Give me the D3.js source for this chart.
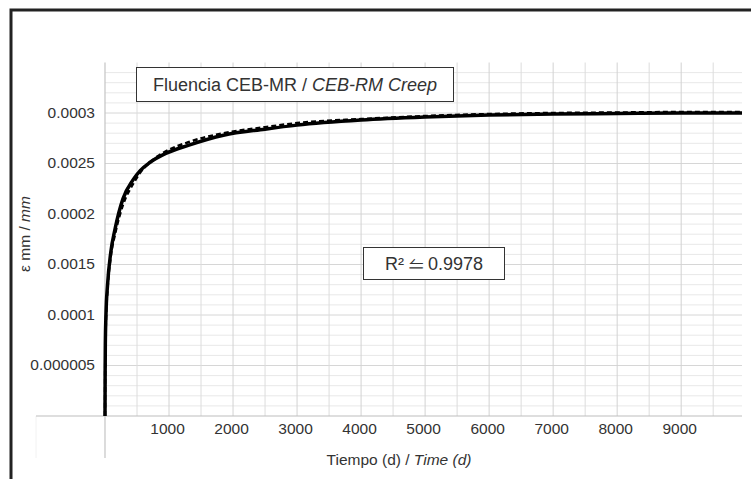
<!DOCTYPE html>
<html>
<head>
<meta charset="utf-8">
<script src="https://cdn.jsdelivr.net/npm/d3@7/dist/d3.min.js"></script>
<style>
  html, body { margin: 0; padding: 0; background: #fff; }
  svg { display: block; }
  text { font-family: "Liberation Sans", Arial, sans-serif; fill: #333; }
</style>
</head>
<body>
<svg id="chart" width="751" height="479"></svg>
<script>
// ---- data ----
const times = [0, 2, 5, 15, 40, 90, 160, 280, 440, 550, 700, 950, 1300, 1850, 2500, 3000, 4000, 5000, 6000, 7000, 8000, 9000, 9950];
const measured = [0, 0.00004, 0.00007, 0.0001, 0.00013, 0.000162, 0.000186, 0.000215, 0.000234, 0.000243, 0.000251, 0.00026, 0.000268, 0.000278, 0.000284, 0.000288, 0.000293, 0.000296, 0.000298, 0.000299, 0.0002995, 0.0003, 0.0003];
const model = [0, 0.000035, 0.000063, 0.000095, 0.000126, 0.000158, 0.000181, 0.000209, 0.00023, 0.000241, 0.000251, 0.000262, 0.000271, 0.00028, 0.000286, 0.00029, 0.000294, 0.000297, 0.000299, 0.0003, 0.0003005, 0.000301, 0.000301];
const yTickValues = [0.00005, 0.0001, 0.00015, 0.0002, 0.00025, 0.0003];
const yTickLabels = ["0.000005", "0.0001", "0.0015", "0.0002", "0.0025", "0.0003"];
const xTickValues = [1000, 2000, 3000, 4000, 5000, 6000, 7000, 8000, 9000];
const titleMain = "Fluencia CEB-MR / ";
const titleItalic = "CEB-RM Creep";
const r2Label = "R² ⥪ 0.9978";
const xTitleMain = "Tiempo (d) / ";
const xTitleItalic = "Time (d)";
const yTitleMain = "ε mm / ";
const yTitleItalic = "mm";

// ---- layout ----
const svg = d3.select("#chart");
const x = d3.scaleLinear().domain([0, 9950]).range([105, 742]);
const y = d3.scaleLinear().domain([0, 0.00035]).range([416, 62.5]);

// frame
svg.append("path")
  .attr("d", "M11,479 L11,10 L751,10")
  .attr("fill", "none").attr("stroke", "#222").attr("stroke-width", 3);

// grid
const g = svg.append("g");
const minorY = d3.range(1, 35).map(i => i * 0.00001);
g.selectAll("line.hminor").data(minorY.filter(v => Math.abs(Math.round(v / 0.00005) * 0.00005 - v) > 1e-9))
  .enter().append("line")
  .attr("x1", x(0)).attr("x2", x(9950))
  .attr("y1", d => y(d)).attr("y2", d => y(d))
  .attr("stroke", "#e8e8e8").attr("stroke-width", 1);
g.selectAll("line.hmajor").data(yTickValues)
  .enter().append("line")
  .attr("x1", x(0)).attr("x2", x(9950))
  .attr("y1", d => y(d)).attr("y2", d => y(d))
  .attr("stroke", "#d6d6d6").attr("stroke-width", 1);
const vLines = d3.range(500, 9951, 500);
g.selectAll("line.v").data(vLines)
  .enter().append("line")
  .attr("x1", d => x(d)).attr("x2", d => x(d))
  .attr("y1", y(0)).attr("y2", y(0.00035))
  .attr("stroke", d => d % 1000 === 0 ? "#d2d2d2" : "#dcdcdc").attr("stroke-width", 1);

// faint outer line left of axes
svg.append("line").attr("x1", 36).attr("x2", 36).attr("y1", y(0)).attr("y2", 458)
  .attr("stroke", "#f2f2f2");

// axes lines
svg.append("line").attr("x1", 36).attr("x2", x(9950)).attr("y1", y(0)).attr("y2", y(0))
  .attr("stroke", "#bdbdbd").attr("stroke-width", 1.2);
svg.append("line").attr("x1", x(0)).attr("x2", x(0)).attr("y1", y(0.00035)).attr("y2", 458)
  .attr("stroke", "#c4c4c4").attr("stroke-width", 1.2);

// y tick labels
const yAxis = d3.axisLeft(y).tickValues(yTickValues)
  .tickFormat((d, i) => yTickLabels[i]).tickSize(0).tickPadding(0);
const ya = svg.append("g").attr("transform", "translate(95,0)").call(yAxis);
ya.select(".domain").remove();
ya.selectAll("text").attr("font-size", 15.5).attr("fill", "#333")
  .attr("font-family", "Liberation Sans, Arial, sans-serif").attr("dy", "0.28em");

// x tick labels
const xAxis = d3.axisBottom(x).tickValues(xTickValues).tickFormat(d3.format("d")).tickSize(0).tickPadding(0);
const xa = svg.append("g").attr("transform", "translate(-2,422)").call(xAxis);
xa.select(".domain").remove();
xa.selectAll("text").attr("font-size", 15.5).attr("fill", "#333")
  .attr("font-family", "Liberation Sans, Arial, sans-serif").attr("dy", "0.78em");

// lines
const line = d3.line().x((d, i) => x(times[i])).y(d => y(d)).curve(d3.curveMonotoneX);
svg.append("path").datum(measured).attr("d", line)
  .attr("fill", "none").attr("stroke", "#000").attr("stroke-width", 3.5).attr("stroke-linejoin", "round");
svg.append("path").datum(model).attr("d", line)
  .attr("fill", "none").attr("stroke", "#000").attr("stroke-width", 2.5).attr("stroke-dasharray", "5,3");

// title box
const tb = svg.append("g");
tb.append("rect").attr("x", 136.5).attr("y", 67.5).attr("width", 317).attr("height", 34)
  .attr("fill", "#fff").attr("stroke", "#333").attr("stroke-width", 1);
const tt = tb.append("text").attr("x", 295).attr("y", 91).attr("text-anchor", "middle").attr("font-size", 18);
tt.append("tspan").text(titleMain);
tt.append("tspan").attr("font-style", "italic").text(titleItalic);

// R2 box
const rb = svg.append("g");
rb.append("rect").attr("x", 363.5).attr("y", 247.5).attr("width", 141).attr("height", 32)
  .attr("fill", "#fff").attr("stroke", "#333").attr("stroke-width", 1);
rb.append("text").attr("x", 434).attr("y", 270).attr("text-anchor", "middle").attr("font-size", 18).text(r2Label);

// axis titles
const xt = svg.append("text").attr("x", 399).attr("y", 465).attr("text-anchor", "middle").attr("font-size", 15.5);
xt.append("tspan").text(xTitleMain);
xt.append("tspan").attr("font-style", "italic").text(xTitleItalic);

const yt = svg.append("text").attr("transform", "translate(30,234) rotate(-90)").attr("text-anchor", "middle").attr("font-size", 15.5);
yt.append("tspan").text(yTitleMain);
yt.append("tspan").attr("font-style", "italic").text(yTitleItalic);
</script>
</body>
</html>
